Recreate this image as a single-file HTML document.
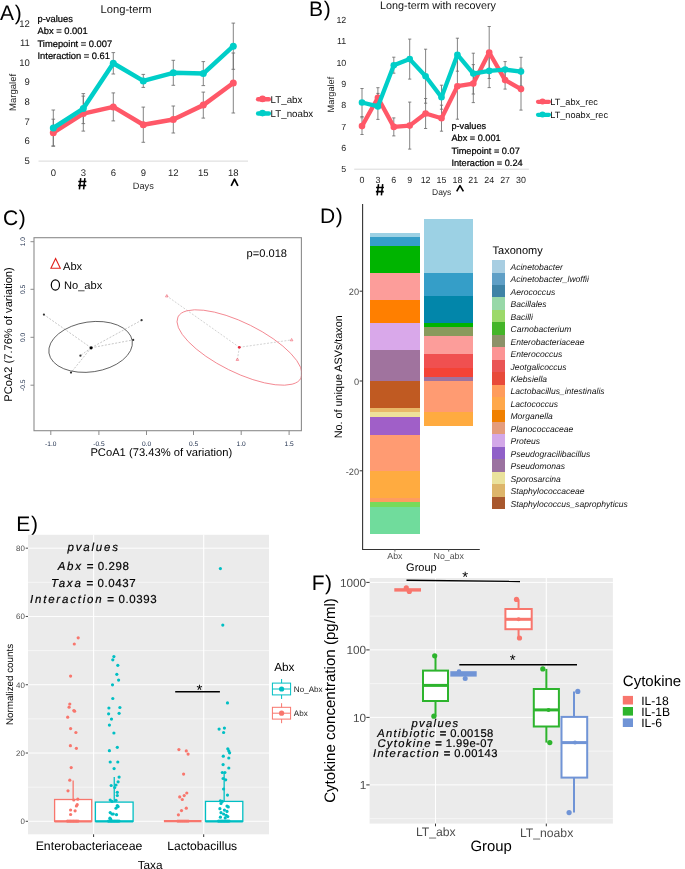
<!DOCTYPE html>
<html><head><meta charset="utf-8"><style>
html,body{margin:0;padding:0;background:#fff;}
svg{display:block;font-family:"Liberation Sans", sans-serif;will-change:transform;text-rendering:geometricPrecision;}
</style></head><body>
<svg width="685" height="869" viewBox="0 0 685 869">
<rect width="685" height="869" fill="#fff"/>
<text x="0.10" y="19.90" font-size="21" letter-spacing="0.6" fill="#000">A)</text>
<text x="126.00" y="13.23" font-size="11.2" text-anchor="middle" fill="#111">Long-term</text>
<text x="37.50" y="21.97" font-size="9.35" text-anchor="start" fill="#000" stroke="#000" stroke-width="0.22">p-values</text>
<text x="37.50" y="34.37" font-size="9.35" text-anchor="start" fill="#000" stroke="#000" stroke-width="0.22">Abx = 0.001</text>
<text x="37.50" y="46.77" font-size="9.35" text-anchor="start" fill="#000" stroke="#000" stroke-width="0.22">Timepoint = 0.007</text>
<text x="37.50" y="58.77" font-size="9.35" text-anchor="start" fill="#000" stroke="#000" stroke-width="0.22">Interaction = 0.61</text>
<text x="29.90" y="164.12" font-size="9.5" text-anchor="end" fill="#262626">5</text>
<text x="29.90" y="144.46" font-size="9.5" text-anchor="end" fill="#262626">6</text>
<text x="29.90" y="124.80" font-size="9.5" text-anchor="end" fill="#262626">7</text>
<text x="29.90" y="105.14" font-size="9.5" text-anchor="end" fill="#262626">8</text>
<text x="29.90" y="85.48" font-size="9.5" text-anchor="end" fill="#262626">9</text>
<text x="29.90" y="65.82" font-size="9.5" text-anchor="end" fill="#262626">10</text>
<text x="29.90" y="46.16" font-size="9.5" text-anchor="end" fill="#262626">11</text>
<text x="29.90" y="26.50" font-size="9.5" text-anchor="end" fill="#262626">12</text>
<line x1="38.50" y1="161.10" x2="248.00" y2="161.10" stroke="#d9d9d9" stroke-width="1" />
<text x="53.30" y="175.72" font-size="9.5" text-anchor="middle" fill="#262626">0</text>
<text x="83.30" y="175.72" font-size="9.5" text-anchor="middle" fill="#262626">3</text>
<text x="113.30" y="175.72" font-size="9.5" text-anchor="middle" fill="#262626">6</text>
<text x="143.30" y="175.72" font-size="9.5" text-anchor="middle" fill="#262626">9</text>
<text x="173.30" y="175.72" font-size="9.5" text-anchor="middle" fill="#262626">12</text>
<text x="203.30" y="175.72" font-size="9.5" text-anchor="middle" fill="#262626">15</text>
<text x="233.30" y="175.72" font-size="9.5" text-anchor="middle" fill="#262626">18</text>
<path d="M80.7,178.1 L79.4,189.3 M84.9,178.1 L83.6,189.3 M78.3,181.5 L86.4,181.5 M78.1,185.4 L86.2,185.4" stroke="#000" stroke-width="1.55" fill="none"/>
<path d="M231.2,185.8 L234.5,179.2 L237.9,185.8" stroke="#000" stroke-width="1.7" fill="none" stroke-linejoin="round"/>
<text x="143.30" y="188.81" font-size="9.2" text-anchor="middle" fill="#262626">Days</text>
<text x="0" y="0" font-size="9.5" text-anchor="middle" fill="#262626"  transform="translate(15.92 92.40) rotate(-90)">Margalef</text>
<line x1="53.30" y1="110.00" x2="53.30" y2="146.00" stroke="#6e6e6e" stroke-width="0.85" />
<line x1="51.50" y1="110.00" x2="55.10" y2="110.00" stroke="#6e6e6e" stroke-width="0.85" />
<line x1="51.50" y1="146.00" x2="55.10" y2="146.00" stroke="#6e6e6e" stroke-width="0.85" />
<line x1="53.30" y1="119.20" x2="53.30" y2="146.20" stroke="#6e6e6e" stroke-width="0.85" />
<line x1="51.50" y1="119.20" x2="55.10" y2="119.20" stroke="#6e6e6e" stroke-width="0.85" />
<line x1="51.50" y1="146.20" x2="55.10" y2="146.20" stroke="#6e6e6e" stroke-width="0.85" />
<line x1="83.30" y1="93.60" x2="83.30" y2="123.60" stroke="#6e6e6e" stroke-width="0.85" />
<line x1="81.50" y1="93.60" x2="85.10" y2="93.60" stroke="#6e6e6e" stroke-width="0.85" />
<line x1="81.50" y1="123.60" x2="85.10" y2="123.60" stroke="#6e6e6e" stroke-width="0.85" />
<line x1="83.30" y1="96.10" x2="83.30" y2="131.10" stroke="#6e6e6e" stroke-width="0.85" />
<line x1="81.50" y1="96.10" x2="85.10" y2="96.10" stroke="#6e6e6e" stroke-width="0.85" />
<line x1="81.50" y1="131.10" x2="85.10" y2="131.10" stroke="#6e6e6e" stroke-width="0.85" />
<line x1="113.30" y1="52.60" x2="113.30" y2="74.00" stroke="#6e6e6e" stroke-width="0.85" />
<line x1="111.50" y1="52.60" x2="115.10" y2="52.60" stroke="#6e6e6e" stroke-width="0.85" />
<line x1="111.50" y1="74.00" x2="115.10" y2="74.00" stroke="#6e6e6e" stroke-width="0.85" />
<line x1="113.30" y1="92.90" x2="113.30" y2="120.90" stroke="#6e6e6e" stroke-width="0.85" />
<line x1="111.50" y1="92.90" x2="115.10" y2="92.90" stroke="#6e6e6e" stroke-width="0.85" />
<line x1="111.50" y1="120.90" x2="115.10" y2="120.90" stroke="#6e6e6e" stroke-width="0.85" />
<line x1="143.30" y1="74.40" x2="143.30" y2="87.40" stroke="#6e6e6e" stroke-width="0.85" />
<line x1="141.50" y1="74.40" x2="145.10" y2="74.40" stroke="#6e6e6e" stroke-width="0.85" />
<line x1="141.50" y1="87.40" x2="145.10" y2="87.40" stroke="#6e6e6e" stroke-width="0.85" />
<line x1="143.30" y1="107.10" x2="143.30" y2="142.30" stroke="#6e6e6e" stroke-width="0.85" />
<line x1="141.50" y1="107.10" x2="145.10" y2="107.10" stroke="#6e6e6e" stroke-width="0.85" />
<line x1="141.50" y1="142.30" x2="145.10" y2="142.30" stroke="#6e6e6e" stroke-width="0.85" />
<line x1="173.30" y1="60.30" x2="173.30" y2="85.30" stroke="#6e6e6e" stroke-width="0.85" />
<line x1="171.50" y1="60.30" x2="175.10" y2="60.30" stroke="#6e6e6e" stroke-width="0.85" />
<line x1="171.50" y1="85.30" x2="175.10" y2="85.30" stroke="#6e6e6e" stroke-width="0.85" />
<line x1="173.30" y1="106.00" x2="173.30" y2="133.00" stroke="#6e6e6e" stroke-width="0.85" />
<line x1="171.50" y1="106.00" x2="175.10" y2="106.00" stroke="#6e6e6e" stroke-width="0.85" />
<line x1="171.50" y1="133.00" x2="175.10" y2="133.00" stroke="#6e6e6e" stroke-width="0.85" />
<line x1="203.30" y1="61.60" x2="203.30" y2="85.60" stroke="#6e6e6e" stroke-width="0.85" />
<line x1="201.50" y1="61.60" x2="205.10" y2="61.60" stroke="#6e6e6e" stroke-width="0.85" />
<line x1="201.50" y1="85.60" x2="205.10" y2="85.60" stroke="#6e6e6e" stroke-width="0.85" />
<line x1="203.30" y1="92.10" x2="203.30" y2="118.10" stroke="#6e6e6e" stroke-width="0.85" />
<line x1="201.50" y1="92.10" x2="205.10" y2="92.10" stroke="#6e6e6e" stroke-width="0.85" />
<line x1="201.50" y1="118.10" x2="205.10" y2="118.10" stroke="#6e6e6e" stroke-width="0.85" />
<line x1="233.30" y1="23.10" x2="233.30" y2="69.30" stroke="#6e6e6e" stroke-width="0.85" />
<line x1="231.50" y1="23.10" x2="235.10" y2="23.10" stroke="#6e6e6e" stroke-width="0.85" />
<line x1="231.50" y1="69.30" x2="235.10" y2="69.30" stroke="#6e6e6e" stroke-width="0.85" />
<line x1="233.30" y1="53.00" x2="233.30" y2="113.00" stroke="#6e6e6e" stroke-width="0.85" />
<line x1="231.50" y1="53.00" x2="235.10" y2="53.00" stroke="#6e6e6e" stroke-width="0.85" />
<line x1="231.50" y1="113.00" x2="235.10" y2="113.00" stroke="#6e6e6e" stroke-width="0.85" />
<polyline points="53.30,132.70 83.30,113.60 113.30,106.90 143.30,124.70 173.30,119.50 203.30,105.10 233.30,83.00" fill="none" stroke="#FF5868" stroke-width="4.5" stroke-linejoin="round" stroke-linecap="round"/>
<circle cx="53.30" cy="132.70" r="3.5" fill="#FF5868"/>
<circle cx="83.30" cy="113.60" r="3.5" fill="#FF5868"/>
<circle cx="113.30" cy="106.90" r="3.5" fill="#FF5868"/>
<circle cx="143.30" cy="124.70" r="3.5" fill="#FF5868"/>
<circle cx="173.30" cy="119.50" r="3.5" fill="#FF5868"/>
<circle cx="203.30" cy="105.10" r="3.5" fill="#FF5868"/>
<circle cx="233.30" cy="83.00" r="3.5" fill="#FF5868"/>
<polyline points="53.30,128.00 83.30,108.60 113.30,63.30 143.30,80.90 173.30,72.80 203.30,73.60 233.30,46.20" fill="none" stroke="#00CEC8" stroke-width="4.5" stroke-linejoin="round" stroke-linecap="round"/>
<circle cx="53.30" cy="128.00" r="3.5" fill="#00CEC8"/>
<circle cx="83.30" cy="108.60" r="3.5" fill="#00CEC8"/>
<circle cx="113.30" cy="63.30" r="3.5" fill="#00CEC8"/>
<circle cx="143.30" cy="80.90" r="3.5" fill="#00CEC8"/>
<circle cx="173.30" cy="72.80" r="3.5" fill="#00CEC8"/>
<circle cx="203.30" cy="73.60" r="3.5" fill="#00CEC8"/>
<circle cx="233.30" cy="46.20" r="3.5" fill="#00CEC8"/>
<line x1="258.20" y1="99.30" x2="268.80" y2="99.30" stroke="#FF5868" stroke-width="4.6" stroke-linecap="round"/>
<circle cx="262.50" cy="98.90" r="3.3" fill="#FF5868"/>
<text x="270.60" y="102.81" font-size="9.75" text-anchor="start" fill="#111">LT_abx</text>
<line x1="258.20" y1="113.50" x2="268.80" y2="113.50" stroke="#00CEC8" stroke-width="4.6" stroke-linecap="round"/>
<circle cx="262.50" cy="113.10" r="3.3" fill="#00CEC8"/>
<text x="270.60" y="117.01" font-size="9.75" text-anchor="start" fill="#111">LT_noabx</text>
<text x="309.10" y="15.80" font-size="21" letter-spacing="0.6" fill="#000">B)</text>
<text x="438.00" y="8.59" font-size="10.8" text-anchor="middle" fill="#111">Long-term with recovery</text>
<text x="346.30" y="172.20" font-size="8.9" text-anchor="end" fill="#262626">5</text>
<text x="346.30" y="150.90" font-size="8.9" text-anchor="end" fill="#262626">6</text>
<text x="346.30" y="129.60" font-size="8.9" text-anchor="end" fill="#262626">7</text>
<text x="346.30" y="108.30" font-size="8.9" text-anchor="end" fill="#262626">8</text>
<text x="346.30" y="87.00" font-size="8.9" text-anchor="end" fill="#262626">9</text>
<text x="346.30" y="65.70" font-size="8.9" text-anchor="end" fill="#262626">10</text>
<text x="346.30" y="44.40" font-size="8.9" text-anchor="end" fill="#262626">11</text>
<text x="346.30" y="23.10" font-size="8.9" text-anchor="end" fill="#262626">12</text>
<line x1="354.20" y1="169.20" x2="528.90" y2="169.20" stroke="#d9d9d9" stroke-width="1" />
<text x="362.00" y="183.10" font-size="8.9" text-anchor="middle" fill="#262626">0</text>
<text x="377.90" y="183.10" font-size="8.9" text-anchor="middle" fill="#262626">3</text>
<text x="393.80" y="183.10" font-size="8.9" text-anchor="middle" fill="#262626">6</text>
<text x="409.70" y="183.10" font-size="8.9" text-anchor="middle" fill="#262626">9</text>
<text x="425.60" y="183.10" font-size="8.9" text-anchor="middle" fill="#262626">12</text>
<text x="441.50" y="183.10" font-size="8.9" text-anchor="middle" fill="#262626">15</text>
<text x="457.40" y="183.10" font-size="8.9" text-anchor="middle" fill="#262626">18</text>
<text x="473.30" y="183.10" font-size="8.9" text-anchor="middle" fill="#262626">21</text>
<text x="489.20" y="183.10" font-size="8.9" text-anchor="middle" fill="#262626">24</text>
<text x="505.10" y="183.10" font-size="8.9" text-anchor="middle" fill="#262626">27</text>
<text x="521.00" y="183.10" font-size="8.9" text-anchor="middle" fill="#262626">30</text>
<path d="M378.5,184.2 L377.2,195.4 M382.7,184.2 L381.4,195.4 M376.1,187.5 L383.9,187.5 M375.9,191.6 L383.7,191.6" stroke="#000" stroke-width="1.55" fill="none"/>
<path d="M456.7,191.4 L460,185.6 L463.4,191.4" stroke="#000" stroke-width="1.6" fill="none" stroke-linejoin="round"/>
<text x="441.70" y="195.06" font-size="8.5" text-anchor="middle" fill="#262626">Days</text>
<text x="0" y="0" font-size="9.2" text-anchor="middle" fill="#262626"  transform="translate(333.61 94.60) rotate(-90)">Margalef</text>
<line x1="362.00" y1="88.50" x2="362.00" y2="116.50" stroke="#6e6e6e" stroke-width="0.85" />
<line x1="360.40" y1="88.50" x2="363.60" y2="88.50" stroke="#6e6e6e" stroke-width="0.85" />
<line x1="360.40" y1="116.50" x2="363.60" y2="116.50" stroke="#6e6e6e" stroke-width="0.85" />
<line x1="362.00" y1="117.70" x2="362.00" y2="134.50" stroke="#6e6e6e" stroke-width="0.85" />
<line x1="360.40" y1="117.70" x2="363.60" y2="117.70" stroke="#6e6e6e" stroke-width="0.85" />
<line x1="360.40" y1="134.50" x2="363.60" y2="134.50" stroke="#6e6e6e" stroke-width="0.85" />
<line x1="377.90" y1="93.40" x2="377.90" y2="119.40" stroke="#6e6e6e" stroke-width="0.85" />
<line x1="376.30" y1="93.40" x2="379.50" y2="93.40" stroke="#6e6e6e" stroke-width="0.85" />
<line x1="376.30" y1="119.40" x2="379.50" y2="119.40" stroke="#6e6e6e" stroke-width="0.85" />
<line x1="377.90" y1="87.70" x2="377.90" y2="107.70" stroke="#6e6e6e" stroke-width="0.85" />
<line x1="376.30" y1="87.70" x2="379.50" y2="87.70" stroke="#6e6e6e" stroke-width="0.85" />
<line x1="376.30" y1="107.70" x2="379.50" y2="107.70" stroke="#6e6e6e" stroke-width="0.85" />
<line x1="393.80" y1="57.20" x2="393.80" y2="73.20" stroke="#6e6e6e" stroke-width="0.85" />
<line x1="392.20" y1="57.20" x2="395.40" y2="57.20" stroke="#6e6e6e" stroke-width="0.85" />
<line x1="392.20" y1="73.20" x2="395.40" y2="73.20" stroke="#6e6e6e" stroke-width="0.85" />
<line x1="393.80" y1="117.90" x2="393.80" y2="135.90" stroke="#6e6e6e" stroke-width="0.85" />
<line x1="392.20" y1="117.90" x2="395.40" y2="117.90" stroke="#6e6e6e" stroke-width="0.85" />
<line x1="392.20" y1="135.90" x2="395.40" y2="135.90" stroke="#6e6e6e" stroke-width="0.85" />
<line x1="409.70" y1="39.10" x2="409.70" y2="79.10" stroke="#6e6e6e" stroke-width="0.85" />
<line x1="408.10" y1="39.10" x2="411.30" y2="39.10" stroke="#6e6e6e" stroke-width="0.85" />
<line x1="408.10" y1="79.10" x2="411.30" y2="79.10" stroke="#6e6e6e" stroke-width="0.85" />
<line x1="409.70" y1="102.10" x2="409.70" y2="149.10" stroke="#6e6e6e" stroke-width="0.85" />
<line x1="408.10" y1="102.10" x2="411.30" y2="102.10" stroke="#6e6e6e" stroke-width="0.85" />
<line x1="408.10" y1="149.10" x2="411.30" y2="149.10" stroke="#6e6e6e" stroke-width="0.85" />
<line x1="425.60" y1="49.20" x2="425.60" y2="103.20" stroke="#6e6e6e" stroke-width="0.85" />
<line x1="424.00" y1="49.20" x2="427.20" y2="49.20" stroke="#6e6e6e" stroke-width="0.85" />
<line x1="424.00" y1="103.20" x2="427.20" y2="103.20" stroke="#6e6e6e" stroke-width="0.85" />
<line x1="425.60" y1="98.50" x2="425.60" y2="128.50" stroke="#6e6e6e" stroke-width="0.85" />
<line x1="424.00" y1="98.50" x2="427.20" y2="98.50" stroke="#6e6e6e" stroke-width="0.85" />
<line x1="424.00" y1="128.50" x2="427.20" y2="128.50" stroke="#6e6e6e" stroke-width="0.85" />
<line x1="441.50" y1="85.20" x2="441.50" y2="109.20" stroke="#6e6e6e" stroke-width="0.85" />
<line x1="439.90" y1="85.20" x2="443.10" y2="85.20" stroke="#6e6e6e" stroke-width="0.85" />
<line x1="439.90" y1="109.20" x2="443.10" y2="109.20" stroke="#6e6e6e" stroke-width="0.85" />
<line x1="441.50" y1="105.20" x2="441.50" y2="131.20" stroke="#6e6e6e" stroke-width="0.85" />
<line x1="439.90" y1="105.20" x2="443.10" y2="105.20" stroke="#6e6e6e" stroke-width="0.85" />
<line x1="439.90" y1="131.20" x2="443.10" y2="131.20" stroke="#6e6e6e" stroke-width="0.85" />
<line x1="457.40" y1="38.20" x2="457.40" y2="71.20" stroke="#6e6e6e" stroke-width="0.85" />
<line x1="455.80" y1="38.20" x2="459.00" y2="38.20" stroke="#6e6e6e" stroke-width="0.85" />
<line x1="455.80" y1="71.20" x2="459.00" y2="71.20" stroke="#6e6e6e" stroke-width="0.85" />
<line x1="457.40" y1="53.20" x2="457.40" y2="119.20" stroke="#6e6e6e" stroke-width="0.85" />
<line x1="455.80" y1="53.20" x2="459.00" y2="53.20" stroke="#6e6e6e" stroke-width="0.85" />
<line x1="455.80" y1="119.20" x2="459.00" y2="119.20" stroke="#6e6e6e" stroke-width="0.85" />
<line x1="473.30" y1="53.20" x2="473.30" y2="94.00" stroke="#6e6e6e" stroke-width="0.85" />
<line x1="471.70" y1="53.20" x2="474.90" y2="53.20" stroke="#6e6e6e" stroke-width="0.85" />
<line x1="471.70" y1="94.00" x2="474.90" y2="94.00" stroke="#6e6e6e" stroke-width="0.85" />
<line x1="473.30" y1="64.60" x2="473.30" y2="102.60" stroke="#6e6e6e" stroke-width="0.85" />
<line x1="471.70" y1="64.60" x2="474.90" y2="64.60" stroke="#6e6e6e" stroke-width="0.85" />
<line x1="471.70" y1="102.60" x2="474.90" y2="102.60" stroke="#6e6e6e" stroke-width="0.85" />
<line x1="489.20" y1="54.20" x2="489.20" y2="87.60" stroke="#6e6e6e" stroke-width="0.85" />
<line x1="487.60" y1="54.20" x2="490.80" y2="54.20" stroke="#6e6e6e" stroke-width="0.85" />
<line x1="487.60" y1="87.60" x2="490.80" y2="87.60" stroke="#6e6e6e" stroke-width="0.85" />
<line x1="489.20" y1="26.50" x2="489.20" y2="78.50" stroke="#6e6e6e" stroke-width="0.85" />
<line x1="487.60" y1="26.50" x2="490.80" y2="26.50" stroke="#6e6e6e" stroke-width="0.85" />
<line x1="487.60" y1="78.50" x2="490.80" y2="78.50" stroke="#6e6e6e" stroke-width="0.85" />
<line x1="505.10" y1="61.60" x2="505.10" y2="77.60" stroke="#6e6e6e" stroke-width="0.85" />
<line x1="503.50" y1="61.60" x2="506.70" y2="61.60" stroke="#6e6e6e" stroke-width="0.85" />
<line x1="503.50" y1="77.60" x2="506.70" y2="77.60" stroke="#6e6e6e" stroke-width="0.85" />
<line x1="505.10" y1="71.10" x2="505.10" y2="89.10" stroke="#6e6e6e" stroke-width="0.85" />
<line x1="503.50" y1="71.10" x2="506.70" y2="71.10" stroke="#6e6e6e" stroke-width="0.85" />
<line x1="503.50" y1="89.10" x2="506.70" y2="89.10" stroke="#6e6e6e" stroke-width="0.85" />
<line x1="521.00" y1="57.30" x2="521.00" y2="85.90" stroke="#6e6e6e" stroke-width="0.85" />
<line x1="519.40" y1="57.30" x2="522.60" y2="57.30" stroke="#6e6e6e" stroke-width="0.85" />
<line x1="519.40" y1="85.90" x2="522.60" y2="85.90" stroke="#6e6e6e" stroke-width="0.85" />
<line x1="521.00" y1="68.10" x2="521.00" y2="110.10" stroke="#6e6e6e" stroke-width="0.85" />
<line x1="519.40" y1="68.10" x2="522.60" y2="68.10" stroke="#6e6e6e" stroke-width="0.85" />
<line x1="519.40" y1="110.10" x2="522.60" y2="110.10" stroke="#6e6e6e" stroke-width="0.85" />
<polyline points="362.00,126.10 377.90,97.70 393.80,126.90 409.70,125.60 425.60,113.50 441.50,118.20 457.40,86.20 473.30,83.60 489.20,52.50 505.10,80.10 521.00,89.10" fill="none" stroke="#FF5868" stroke-width="4.3" stroke-linejoin="round" stroke-linecap="round"/>
<circle cx="362.00" cy="126.10" r="3.3" fill="#FF5868"/>
<circle cx="377.90" cy="97.70" r="3.3" fill="#FF5868"/>
<circle cx="393.80" cy="126.90" r="3.3" fill="#FF5868"/>
<circle cx="409.70" cy="125.60" r="3.3" fill="#FF5868"/>
<circle cx="425.60" cy="113.50" r="3.3" fill="#FF5868"/>
<circle cx="441.50" cy="118.20" r="3.3" fill="#FF5868"/>
<circle cx="457.40" cy="86.20" r="3.3" fill="#FF5868"/>
<circle cx="473.30" cy="83.60" r="3.3" fill="#FF5868"/>
<circle cx="489.20" cy="52.50" r="3.3" fill="#FF5868"/>
<circle cx="505.10" cy="80.10" r="3.3" fill="#FF5868"/>
<circle cx="521.00" cy="89.10" r="3.3" fill="#FF5868"/>
<polyline points="362.00,102.50 377.90,106.40 393.80,65.20 409.70,59.10 425.60,76.20 441.50,97.20 457.40,54.70 473.30,73.60 489.20,70.90 505.10,69.60 521.00,71.60" fill="none" stroke="#00CEC8" stroke-width="4.3" stroke-linejoin="round" stroke-linecap="round"/>
<circle cx="362.00" cy="102.50" r="3.3" fill="#00CEC8"/>
<circle cx="377.90" cy="106.40" r="3.3" fill="#00CEC8"/>
<circle cx="393.80" cy="65.20" r="3.3" fill="#00CEC8"/>
<circle cx="409.70" cy="59.10" r="3.3" fill="#00CEC8"/>
<circle cx="425.60" cy="76.20" r="3.3" fill="#00CEC8"/>
<circle cx="441.50" cy="97.20" r="3.3" fill="#00CEC8"/>
<circle cx="457.40" cy="54.70" r="3.3" fill="#00CEC8"/>
<circle cx="473.30" cy="73.60" r="3.3" fill="#00CEC8"/>
<circle cx="489.20" cy="70.90" r="3.3" fill="#00CEC8"/>
<circle cx="505.10" cy="69.60" r="3.3" fill="#00CEC8"/>
<circle cx="521.00" cy="71.60" r="3.3" fill="#00CEC8"/>
<line x1="538.00" y1="101.80" x2="549.00" y2="101.80" stroke="#FF5868" stroke-width="4.2" stroke-linecap="round"/>
<circle cx="542.50" cy="101.50" r="3.0" fill="#FF5868"/>
<text x="550.30" y="105.09" font-size="9.15" text-anchor="start" fill="#111">LT_abx_rec</text>
<line x1="538.00" y1="114.80" x2="549.00" y2="114.80" stroke="#00CEC8" stroke-width="4.2" stroke-linecap="round"/>
<circle cx="542.50" cy="114.50" r="3.0" fill="#00CEC8"/>
<text x="550.30" y="118.09" font-size="9.15" text-anchor="start" fill="#111">LT_noabx_rec</text>
<text x="451.40" y="128.91" font-size="9.2" text-anchor="start" fill="#000" stroke="#000" stroke-width="0.22">p-values</text>
<text x="451.40" y="140.71" font-size="9.2" text-anchor="start" fill="#000" stroke="#000" stroke-width="0.22">Abx = 0.001</text>
<text x="451.40" y="153.61" font-size="9.2" text-anchor="start" fill="#000" stroke="#000" stroke-width="0.22">Timepoint = 0.07</text>
<text x="451.40" y="165.71" font-size="9.2" text-anchor="start" fill="#000" stroke="#000" stroke-width="0.22">Interaction = 0.24</text>
<text x="3.10" y="225.20" font-size="21" letter-spacing="0.6" fill="#000">C)</text>
<rect x="34.00" y="237.70" width="267.40" height="193.00" fill="none" stroke="#8c8c8c" stroke-width="1.1" />
<line x1="30.50" y1="241.70" x2="34.00" y2="241.70" stroke="#8c8c8c" stroke-width="1" />
<text x="0" y="0" font-size="6.6" text-anchor="middle" fill="#1a2a48"  transform="translate(24.68 241.70) rotate(-90)">1.0</text>
<line x1="30.50" y1="289.30" x2="34.00" y2="289.30" stroke="#8c8c8c" stroke-width="1" />
<text x="0" y="0" font-size="6.6" text-anchor="middle" fill="#1a2a48"  transform="translate(24.68 289.30) rotate(-90)">0.5</text>
<line x1="30.50" y1="337.30" x2="34.00" y2="337.30" stroke="#8c8c8c" stroke-width="1" />
<text x="0" y="0" font-size="6.6" text-anchor="middle" fill="#1a2a48"  transform="translate(24.68 337.30) rotate(-90)">0.0</text>
<line x1="30.50" y1="385.20" x2="34.00" y2="385.20" stroke="#8c8c8c" stroke-width="1" />
<text x="0" y="0" font-size="6.6" text-anchor="middle" fill="#1a2a48"  transform="translate(24.68 385.20) rotate(-90)">-0.5</text>
<line x1="50.80" y1="430.70" x2="50.80" y2="435.00" stroke="#8c8c8c" stroke-width="1" />
<text x="50.80" y="445.58" font-size="6.6" text-anchor="middle" fill="#1a2a48">-1.0</text>
<line x1="98.90" y1="430.70" x2="98.90" y2="435.00" stroke="#8c8c8c" stroke-width="1" />
<text x="98.90" y="445.58" font-size="6.6" text-anchor="middle" fill="#1a2a48">-0.5</text>
<line x1="146.50" y1="430.70" x2="146.50" y2="435.00" stroke="#8c8c8c" stroke-width="1" />
<text x="146.50" y="445.58" font-size="6.6" text-anchor="middle" fill="#1a2a48">0.0</text>
<line x1="193.50" y1="430.70" x2="193.50" y2="435.00" stroke="#8c8c8c" stroke-width="1" />
<text x="193.50" y="445.58" font-size="6.6" text-anchor="middle" fill="#1a2a48">0.5</text>
<line x1="241.20" y1="430.70" x2="241.20" y2="435.00" stroke="#8c8c8c" stroke-width="1" />
<text x="241.20" y="445.58" font-size="6.6" text-anchor="middle" fill="#1a2a48">1.0</text>
<line x1="289.10" y1="430.70" x2="289.10" y2="435.00" stroke="#8c8c8c" stroke-width="1" />
<text x="289.10" y="445.58" font-size="6.6" text-anchor="middle" fill="#1a2a48">1.5</text>
<text x="161.30" y="456.03" font-size="11.2" text-anchor="middle" fill="#000">PCoA1 (73.43% of variation)</text>
<text x="0" y="0" font-size="11.1" text-anchor="middle" fill="#000"  transform="translate(12.10 334.50) rotate(-90)">PCoA2 (7.76% of variation)</text>
<text x="266.80" y="257.40" font-size="11.1" text-anchor="middle" fill="#000">p=0.018</text>
<path d="M55.6,258.6 L60.3,268.3 L50.9,268.3 Z" fill="none" stroke="#e0201b" stroke-width="1.1"/>
<text x="63.00" y="270.30" font-size="11.1" text-anchor="start" fill="#000">Abx</text>
<ellipse cx="55.4" cy="285" rx="4.1" ry="5.1" fill="none" stroke="#000" stroke-width="1.2"/>
<text x="64.00" y="289.30" font-size="11.1" text-anchor="start" fill="#000">No_abx</text>
<line x1="91.10" y1="347.80" x2="43.90" y2="314.60" stroke="#b4b4b4" stroke-width="0.75" stroke-dasharray="2,1.5"/>
<circle cx="43.90" cy="314.60" r="1.1" fill="#333"/>
<line x1="91.10" y1="347.80" x2="141.60" y2="320.20" stroke="#b4b4b4" stroke-width="0.75" stroke-dasharray="2,1.5"/>
<circle cx="141.60" cy="320.20" r="1.1" fill="#333"/>
<line x1="91.10" y1="347.80" x2="133.20" y2="339.90" stroke="#b4b4b4" stroke-width="0.75" stroke-dasharray="2,1.5"/>
<circle cx="133.20" cy="339.90" r="1.1" fill="#333"/>
<line x1="91.10" y1="347.80" x2="80.40" y2="355.70" stroke="#b4b4b4" stroke-width="0.75" stroke-dasharray="2,1.5"/>
<circle cx="80.40" cy="355.70" r="1.1" fill="#333"/>
<line x1="91.10" y1="347.80" x2="71.00" y2="372.60" stroke="#b4b4b4" stroke-width="0.75" stroke-dasharray="2,1.5"/>
<circle cx="71.00" cy="372.60" r="1.1" fill="#333"/>
<circle cx="91.10" cy="347.80" r="1.6" fill="#000"/>
<ellipse cx="90.6" cy="346.9" rx="42.1" ry="25" transform="rotate(-8.4 90.6 346.9)" fill="none" stroke="#3a3a3a" stroke-width="0.75"/>
<line x1="239.30" y1="347.30" x2="166.80" y2="296.00" stroke="#c4c4c4" stroke-width="0.75" stroke-dasharray="2,1.5"/>
<path d="M166.80,294.60 L168.10,296.90 L165.50,296.90 Z" fill="none" stroke="#f26a78" stroke-width="0.7"/>
<line x1="239.30" y1="347.30" x2="291.60" y2="339.90" stroke="#c4c4c4" stroke-width="0.75" stroke-dasharray="2,1.5"/>
<path d="M291.60,338.50 L292.90,340.80 L290.30,340.80 Z" fill="none" stroke="#f26a78" stroke-width="0.7"/>
<line x1="239.30" y1="347.30" x2="237.40" y2="359.50" stroke="#c4c4c4" stroke-width="0.75" stroke-dasharray="2,1.5"/>
<path d="M237.40,358.10 L238.70,360.40 L236.10,360.40 Z" fill="none" stroke="#f26a78" stroke-width="0.7"/>
<circle cx="239.30" cy="347.30" r="1.4" fill="#e8283c"/>
<clipPath id="cb"><rect x="34" y="237.7" width="267.4" height="193"/></clipPath>
<g clip-path="url(#cb)"><ellipse cx="239.5" cy="347.5" rx="68.7" ry="24.7" transform="rotate(26.4 239.5 347.5)" fill="none" stroke="#f27a84" stroke-width="0.8"/></g>
<text x="320.10" y="223.30" font-size="21" letter-spacing="0.6" fill="#000">D)</text>
<rect x="370.00" y="232.83" width="49.70" height="148.18" fill="#9CD1E4" stroke="none" stroke-width="1" shape-rendering="crispEdges"/>
<rect x="370.00" y="237.32" width="49.70" height="143.69" fill="#359EC8" stroke="none" stroke-width="1" shape-rendering="crispEdges"/>
<rect x="370.00" y="246.30" width="49.70" height="134.71" fill="#00B400" stroke="none" stroke-width="1" shape-rendering="crispEdges"/>
<rect x="370.00" y="273.24" width="49.70" height="107.77" fill="#FC9D9A" stroke="none" stroke-width="1" shape-rendering="crispEdges"/>
<rect x="370.00" y="300.18" width="49.70" height="80.83" fill="#FF7F00" stroke="none" stroke-width="1" shape-rendering="crispEdges"/>
<rect x="370.00" y="322.63" width="49.70" height="58.38" fill="#D9A8EA" stroke="none" stroke-width="1" shape-rendering="crispEdges"/>
<rect x="370.00" y="349.57" width="49.70" height="31.44" fill="#A0739E" stroke="none" stroke-width="1" shape-rendering="crispEdges"/>
<rect x="370.00" y="381.00" width="49.70" height="152.66" fill="#70DC9C" stroke="none" stroke-width="1" shape-rendering="crispEdges"/>
<rect x="370.00" y="381.00" width="49.70" height="125.72" fill="#78DA5A" stroke="none" stroke-width="1" shape-rendering="crispEdges"/>
<rect x="370.00" y="381.00" width="49.70" height="121.23" fill="#FF9C60" stroke="none" stroke-width="1" shape-rendering="crispEdges"/>
<rect x="370.00" y="381.00" width="49.70" height="116.74" fill="#FFAB40" stroke="none" stroke-width="1" shape-rendering="crispEdges"/>
<rect x="370.00" y="381.00" width="49.70" height="89.80" fill="#FF9B72" stroke="none" stroke-width="1" shape-rendering="crispEdges"/>
<rect x="370.00" y="381.00" width="49.70" height="53.88" fill="#A05FC8" stroke="none" stroke-width="1" shape-rendering="crispEdges"/>
<rect x="370.00" y="381.00" width="49.70" height="35.92" fill="#EEE09A" stroke="none" stroke-width="1" shape-rendering="crispEdges"/>
<rect x="370.00" y="381.00" width="49.70" height="31.43" fill="#E8B868" stroke="none" stroke-width="1" shape-rendering="crispEdges"/>
<rect x="370.00" y="381.00" width="49.70" height="26.94" fill="#C05A22" stroke="none" stroke-width="1" shape-rendering="crispEdges"/>
<rect x="424.30" y="219.36" width="48.70" height="161.65" fill="#9CD1E4" stroke="none" stroke-width="1" shape-rendering="crispEdges"/>
<rect x="424.30" y="273.24" width="48.70" height="107.77" fill="#359EC8" stroke="none" stroke-width="1" shape-rendering="crispEdges"/>
<rect x="424.30" y="295.69" width="48.70" height="85.32" fill="#0286AA" stroke="none" stroke-width="1" shape-rendering="crispEdges"/>
<rect x="424.30" y="322.63" width="48.70" height="58.38" fill="#00B400" stroke="none" stroke-width="1" shape-rendering="crispEdges"/>
<rect x="424.30" y="327.12" width="48.70" height="53.89" fill="#8A9A5C" stroke="none" stroke-width="1" shape-rendering="crispEdges"/>
<rect x="424.30" y="336.10" width="48.70" height="44.91" fill="#FC9D9A" stroke="none" stroke-width="1" shape-rendering="crispEdges"/>
<rect x="424.30" y="354.06" width="48.70" height="26.95" fill="#F05050" stroke="none" stroke-width="1" shape-rendering="crispEdges"/>
<rect x="424.30" y="367.53" width="48.70" height="13.48" fill="#F44336" stroke="none" stroke-width="1" shape-rendering="crispEdges"/>
<rect x="424.30" y="376.51" width="48.70" height="4.50" fill="#A0739E" stroke="none" stroke-width="1" shape-rendering="crispEdges"/>
<rect x="424.30" y="381.00" width="48.70" height="44.90" fill="#FFAB40" stroke="none" stroke-width="1" shape-rendering="crispEdges"/>
<rect x="424.30" y="381.00" width="48.70" height="31.43" fill="#FF9B72" stroke="none" stroke-width="1" shape-rendering="crispEdges"/>
<line x1="362.60" y1="204.00" x2="362.60" y2="549.60" stroke="#333" stroke-width="1.1" />
<line x1="362.10" y1="549.50" x2="479.80" y2="549.50" stroke="#333" stroke-width="1.1" />
<line x1="359.60" y1="291.20" x2="362.60" y2="291.20" stroke="#333" stroke-width="1" />
<text x="359.00" y="294.91" font-size="9.2" text-anchor="end" fill="#4d4d4d">20</text>
<line x1="359.60" y1="381.00" x2="362.60" y2="381.00" stroke="#333" stroke-width="1" />
<text x="359.00" y="384.71" font-size="9.2" text-anchor="end" fill="#4d4d4d">0</text>
<line x1="359.60" y1="470.80" x2="362.60" y2="470.80" stroke="#333" stroke-width="1" />
<text x="359.00" y="474.51" font-size="9.2" text-anchor="end" fill="#4d4d4d">-20</text>
<line x1="394.90" y1="549.50" x2="394.90" y2="551.60" stroke="#555" stroke-width="0.9" />
<text x="394.90" y="559.37" font-size="8.8" text-anchor="middle" fill="#4d4d4d">Abx</text>
<line x1="448.70" y1="549.50" x2="448.70" y2="551.60" stroke="#555" stroke-width="0.9" />
<text x="448.70" y="559.37" font-size="8.8" text-anchor="middle" fill="#4d4d4d">No_abx</text>
<text x="421.40" y="571.26" font-size="11" text-anchor="middle" fill="#000">Group</text>
<text x="0" y="0" font-size="10.8" text-anchor="middle" fill="#000"  transform="translate(342.29 376.80) rotate(-90)">No. of unique ASVs/taxon</text>
<text x="492.60" y="254.36" font-size="11" text-anchor="start" fill="#000">Taxonomy</text>
<rect x="492.40" y="260.10" width="12.50" height="13.05" fill="#A8CEE2" stroke="none" stroke-width="1" shape-rendering="crispEdges"/>
<text x="510.50" y="269.98" font-size="8.55" text-anchor="start" fill="#111" font-style="italic">Acinetobacter</text>
<rect x="492.40" y="272.55" width="12.50" height="13.05" fill="#5F9FC6" stroke="none" stroke-width="1" shape-rendering="crispEdges"/>
<text x="510.50" y="282.43" font-size="8.55" text-anchor="start" fill="#111" font-style="italic">Acinetobacter_lwoffii</text>
<rect x="492.40" y="285.00" width="12.50" height="13.05" fill="#3E83A6" stroke="none" stroke-width="1" shape-rendering="crispEdges"/>
<text x="510.50" y="294.88" font-size="8.55" text-anchor="start" fill="#111" font-style="italic">Aerococcus</text>
<rect x="492.40" y="297.45" width="12.50" height="13.05" fill="#98D8A8" stroke="none" stroke-width="1" shape-rendering="crispEdges"/>
<text x="510.50" y="307.33" font-size="8.55" text-anchor="start" fill="#111" font-style="italic">Bacillales</text>
<rect x="492.40" y="309.90" width="12.50" height="13.05" fill="#9CD96A" stroke="none" stroke-width="1" shape-rendering="crispEdges"/>
<text x="510.50" y="319.78" font-size="8.55" text-anchor="start" fill="#111" font-style="italic">Bacilli</text>
<rect x="492.40" y="322.35" width="12.50" height="13.05" fill="#44B528" stroke="none" stroke-width="1" shape-rendering="crispEdges"/>
<text x="510.50" y="332.23" font-size="8.55" text-anchor="start" fill="#111" font-style="italic">Carnobacterium</text>
<rect x="492.40" y="334.80" width="12.50" height="13.05" fill="#8C9168" stroke="none" stroke-width="1" shape-rendering="crispEdges"/>
<text x="510.50" y="344.68" font-size="8.55" text-anchor="start" fill="#111" font-style="italic">Enterobacteriaceae</text>
<rect x="492.40" y="347.25" width="12.50" height="13.05" fill="#FC9494" stroke="none" stroke-width="1" shape-rendering="crispEdges"/>
<text x="510.50" y="357.13" font-size="8.55" text-anchor="start" fill="#111" font-style="italic">Enterococcus</text>
<rect x="492.40" y="359.70" width="12.50" height="13.05" fill="#EA5555" stroke="none" stroke-width="1" shape-rendering="crispEdges"/>
<text x="510.50" y="369.58" font-size="8.55" text-anchor="start" fill="#111" font-style="italic">Jeotgalicoccus</text>
<rect x="492.40" y="372.15" width="12.50" height="13.05" fill="#E84A3A" stroke="none" stroke-width="1" shape-rendering="crispEdges"/>
<text x="510.50" y="382.03" font-size="8.55" text-anchor="start" fill="#111" font-style="italic">Klebsiella</text>
<rect x="492.40" y="384.60" width="12.50" height="13.05" fill="#FF9C5C" stroke="none" stroke-width="1" shape-rendering="crispEdges"/>
<text x="510.50" y="394.48" font-size="8.55" text-anchor="start" fill="#111" font-style="italic">Lactobacillus_intestinalis</text>
<rect x="492.40" y="397.05" width="12.50" height="13.05" fill="#FFA84A" stroke="none" stroke-width="1" shape-rendering="crispEdges"/>
<text x="510.50" y="406.93" font-size="8.55" text-anchor="start" fill="#111" font-style="italic">Lactococcus</text>
<rect x="492.40" y="409.50" width="12.50" height="13.05" fill="#F08000" stroke="none" stroke-width="1" shape-rendering="crispEdges"/>
<text x="510.50" y="419.38" font-size="8.55" text-anchor="start" fill="#111" font-style="italic">Morganella</text>
<rect x="492.40" y="421.95" width="12.50" height="13.05" fill="#E49C7C" stroke="none" stroke-width="1" shape-rendering="crispEdges"/>
<text x="510.50" y="431.83" font-size="8.55" text-anchor="start" fill="#111" font-style="italic">Planococcaceae</text>
<rect x="492.40" y="434.40" width="12.50" height="13.05" fill="#D3A8E8" stroke="none" stroke-width="1" shape-rendering="crispEdges"/>
<text x="510.50" y="444.28" font-size="8.55" text-anchor="start" fill="#111" font-style="italic">Proteus</text>
<rect x="492.40" y="446.85" width="12.50" height="13.05" fill="#9060C8" stroke="none" stroke-width="1" shape-rendering="crispEdges"/>
<text x="510.50" y="456.73" font-size="8.55" text-anchor="start" fill="#111" font-style="italic">Pseudogracilibacillus</text>
<rect x="492.40" y="459.30" width="12.50" height="13.05" fill="#9B72A0" stroke="none" stroke-width="1" shape-rendering="crispEdges"/>
<text x="510.50" y="469.18" font-size="8.55" text-anchor="start" fill="#111" font-style="italic">Pseudomonas</text>
<rect x="492.40" y="471.75" width="12.50" height="13.05" fill="#EAE29C" stroke="none" stroke-width="1" shape-rendering="crispEdges"/>
<text x="510.50" y="481.63" font-size="8.55" text-anchor="start" fill="#111" font-style="italic">Sporosarcina</text>
<rect x="492.40" y="484.20" width="12.50" height="13.05" fill="#DDB56A" stroke="none" stroke-width="1" shape-rendering="crispEdges"/>
<text x="510.50" y="494.08" font-size="8.55" text-anchor="start" fill="#111" font-style="italic">Staphylococcaceae</text>
<rect x="492.40" y="496.65" width="12.50" height="12.45" fill="#A8582E" stroke="none" stroke-width="1" shape-rendering="crispEdges"/>
<text x="510.50" y="506.53" font-size="8.55" text-anchor="start" fill="#111" font-style="italic">Staphylococcus_saprophyticus</text>
<text x="16.30" y="530.90" font-size="21" letter-spacing="0.6" fill="#000">E)</text>
<rect x="28.00" y="534.80" width="241.00" height="299.50" fill="#EBEBEB" stroke="none" stroke-width="1" />
<line x1="28.00" y1="787.16" x2="269.00" y2="787.16" stroke="#fff" stroke-width="0.55" />
<line x1="28.00" y1="718.88" x2="269.00" y2="718.88" stroke="#fff" stroke-width="0.55" />
<line x1="28.00" y1="650.60" x2="269.00" y2="650.60" stroke="#fff" stroke-width="0.55" />
<line x1="28.00" y1="582.32" x2="269.00" y2="582.32" stroke="#fff" stroke-width="0.55" />
<line x1="28.00" y1="821.30" x2="269.00" y2="821.30" stroke="#fff" stroke-width="0.95" />
<line x1="25.70" y1="821.30" x2="28.00" y2="821.30" stroke="#333" stroke-width="0.9" />
<text x="24.80" y="824.14" font-size="7.9" text-anchor="end" fill="#4d4d4d">0</text>
<line x1="28.00" y1="753.02" x2="269.00" y2="753.02" stroke="#fff" stroke-width="0.95" />
<line x1="25.70" y1="753.02" x2="28.00" y2="753.02" stroke="#333" stroke-width="0.9" />
<text x="24.80" y="755.86" font-size="7.9" text-anchor="end" fill="#4d4d4d">20</text>
<line x1="28.00" y1="684.74" x2="269.00" y2="684.74" stroke="#fff" stroke-width="0.95" />
<line x1="25.70" y1="684.74" x2="28.00" y2="684.74" stroke="#333" stroke-width="0.9" />
<text x="24.80" y="687.58" font-size="7.9" text-anchor="end" fill="#4d4d4d">40</text>
<line x1="28.00" y1="616.46" x2="269.00" y2="616.46" stroke="#fff" stroke-width="0.95" />
<line x1="25.70" y1="616.46" x2="28.00" y2="616.46" stroke="#333" stroke-width="0.9" />
<text x="24.80" y="619.30" font-size="7.9" text-anchor="end" fill="#4d4d4d">60</text>
<line x1="28.00" y1="548.18" x2="269.00" y2="548.18" stroke="#fff" stroke-width="0.95" />
<line x1="25.70" y1="548.18" x2="28.00" y2="548.18" stroke="#333" stroke-width="0.9" />
<text x="24.80" y="551.02" font-size="7.9" text-anchor="end" fill="#4d4d4d">80</text>
<line x1="93.60" y1="534.80" x2="93.60" y2="834.30" stroke="#fff" stroke-width="1.1" />
<line x1="93.60" y1="834.30" x2="93.60" y2="837.00" stroke="#333" stroke-width="1" />
<line x1="203.70" y1="534.80" x2="203.70" y2="834.30" stroke="#fff" stroke-width="1.1" />
<line x1="203.70" y1="834.30" x2="203.70" y2="837.00" stroke="#333" stroke-width="1" />
<text x="89.00" y="850.03" font-size="12.3" text-anchor="middle" fill="#000">Enterobacteriaceae</text>
<text x="202.20" y="849.96" font-size="12.1" text-anchor="middle" fill="#000">Lactobacillus</text>
<text x="150.10" y="868.85" font-size="11.8" text-anchor="middle" fill="#000">Taxa</text>
<text x="0" y="0" font-size="9.8" text-anchor="middle" fill="#000"  transform="translate(12.73 684.50) rotate(-90)">Normalized counts</text>
<rect x="54.60" y="799.50" width="37.10" height="21.80" fill="#fff" stroke="#F8766D" stroke-width="1.3" />
<line x1="73.15" y1="799.50" x2="73.15" y2="780.50" stroke="#F8766D" stroke-width="1.3" />
<line x1="54.60" y1="821.30" x2="91.70" y2="821.30" stroke="#F8766D" stroke-width="2.2" />
<rect x="95.40" y="802.10" width="37.70" height="19.20" fill="#fff" stroke="#00BFC4" stroke-width="1.3" />
<line x1="114.25" y1="802.10" x2="114.25" y2="777.10" stroke="#00BFC4" stroke-width="1.3" />
<line x1="95.40" y1="821.30" x2="133.10" y2="821.30" stroke="#00BFC4" stroke-width="2.2" />
<line x1="163.90" y1="821.20" x2="201.50" y2="821.20" stroke="#F8766D" stroke-width="2.2" />
<rect x="205.50" y="801.40" width="37.30" height="19.90" fill="#fff" stroke="#00BFC4" stroke-width="1.3" />
<line x1="224.15" y1="801.40" x2="224.15" y2="772.00" stroke="#00BFC4" stroke-width="1.3" />
<line x1="205.50" y1="821.30" x2="242.80" y2="821.30" stroke="#00BFC4" stroke-width="2.2" />
<circle cx="78.20" cy="637.80" r="1.6" fill="#F8766D"/>
<circle cx="74.30" cy="644.00" r="1.6" fill="#F8766D"/>
<circle cx="70.60" cy="676.10" r="1.6" fill="#F8766D"/>
<circle cx="69.80" cy="704.00" r="1.6" fill="#F8766D"/>
<circle cx="69.10" cy="707.20" r="1.6" fill="#F8766D"/>
<circle cx="73.80" cy="710.60" r="1.6" fill="#F8766D"/>
<circle cx="74.60" cy="711.20" r="1.6" fill="#F8766D"/>
<circle cx="67.70" cy="717.20" r="1.6" fill="#F8766D"/>
<circle cx="70.60" cy="728.60" r="1.6" fill="#F8766D"/>
<circle cx="75.90" cy="732.50" r="1.6" fill="#F8766D"/>
<circle cx="70.40" cy="745.70" r="1.6" fill="#F8766D"/>
<circle cx="76.40" cy="748.30" r="1.6" fill="#F8766D"/>
<circle cx="71.20" cy="767.60" r="1.6" fill="#F8766D"/>
<circle cx="69.80" cy="780.20" r="1.6" fill="#F8766D"/>
<circle cx="68.00" cy="790.80" r="1.6" fill="#F8766D"/>
<circle cx="73.80" cy="800.00" r="1.6" fill="#F8766D"/>
<circle cx="77.80" cy="799.20" r="1.6" fill="#F8766D"/>
<circle cx="77.20" cy="804.70" r="1.6" fill="#F8766D"/>
<circle cx="76.40" cy="806.00" r="1.6" fill="#F8766D"/>
<circle cx="70.60" cy="810.00" r="1.6" fill="#F8766D"/>
<circle cx="75.10" cy="810.80" r="1.6" fill="#F8766D"/>
<circle cx="70.60" cy="814.50" r="1.6" fill="#F8766D"/>
<circle cx="67.50" cy="821.10" r="1.6" fill="#F8766D"/>
<circle cx="69.00" cy="821.10" r="1.6" fill="#F8766D"/>
<circle cx="70.50" cy="821.10" r="1.6" fill="#F8766D"/>
<circle cx="72.00" cy="821.10" r="1.6" fill="#F8766D"/>
<circle cx="73.50" cy="821.10" r="1.6" fill="#F8766D"/>
<circle cx="75.00" cy="821.10" r="1.6" fill="#F8766D"/>
<circle cx="76.50" cy="821.10" r="1.6" fill="#F8766D"/>
<circle cx="78.00" cy="821.10" r="1.6" fill="#F8766D"/>
<circle cx="178.90" cy="749.60" r="1.6" fill="#F8766D"/>
<circle cx="186.30" cy="750.90" r="1.6" fill="#F8766D"/>
<circle cx="188.10" cy="754.10" r="1.6" fill="#F8766D"/>
<circle cx="183.60" cy="774.10" r="1.6" fill="#F8766D"/>
<circle cx="179.70" cy="796.90" r="1.6" fill="#F8766D"/>
<circle cx="184.20" cy="795.60" r="1.6" fill="#F8766D"/>
<circle cx="186.80" cy="793.00" r="1.6" fill="#F8766D"/>
<circle cx="182.30" cy="799.50" r="1.6" fill="#F8766D"/>
<circle cx="186.30" cy="808.20" r="1.6" fill="#F8766D"/>
<circle cx="181.50" cy="810.60" r="1.6" fill="#F8766D"/>
<circle cx="178.40" cy="814.80" r="1.6" fill="#F8766D"/>
<circle cx="178.00" cy="821.10" r="1.6" fill="#F8766D"/>
<circle cx="180.00" cy="821.10" r="1.6" fill="#F8766D"/>
<circle cx="182.00" cy="821.10" r="1.6" fill="#F8766D"/>
<circle cx="184.00" cy="821.10" r="1.6" fill="#F8766D"/>
<circle cx="186.00" cy="821.10" r="1.6" fill="#F8766D"/>
<circle cx="188.00" cy="821.10" r="1.6" fill="#F8766D"/>
<circle cx="113.90" cy="656.60" r="1.6" fill="#00BFC4"/>
<circle cx="112.80" cy="659.80" r="1.6" fill="#00BFC4"/>
<circle cx="117.80" cy="665.30" r="1.6" fill="#00BFC4"/>
<circle cx="116.80" cy="674.30" r="1.6" fill="#00BFC4"/>
<circle cx="118.60" cy="680.10" r="1.6" fill="#00BFC4"/>
<circle cx="112.50" cy="684.80" r="1.6" fill="#00BFC4"/>
<circle cx="112.80" cy="698.50" r="1.6" fill="#00BFC4"/>
<circle cx="108.90" cy="708.00" r="1.6" fill="#00BFC4"/>
<circle cx="119.90" cy="707.50" r="1.6" fill="#00BFC4"/>
<circle cx="108.60" cy="713.80" r="1.6" fill="#00BFC4"/>
<circle cx="119.10" cy="713.30" r="1.6" fill="#00BFC4"/>
<circle cx="111.50" cy="719.10" r="1.6" fill="#00BFC4"/>
<circle cx="109.40" cy="725.10" r="1.6" fill="#00BFC4"/>
<circle cx="113.90" cy="733.00" r="1.6" fill="#00BFC4"/>
<circle cx="109.40" cy="750.70" r="1.6" fill="#00BFC4"/>
<circle cx="117.30" cy="747.30" r="1.6" fill="#00BFC4"/>
<circle cx="110.20" cy="762.00" r="1.6" fill="#00BFC4"/>
<circle cx="117.80" cy="762.00" r="1.6" fill="#00BFC4"/>
<circle cx="114.10" cy="768.60" r="1.6" fill="#00BFC4"/>
<circle cx="119.10" cy="777.10" r="1.6" fill="#00BFC4"/>
<circle cx="118.10" cy="781.80" r="1.6" fill="#00BFC4"/>
<circle cx="116.00" cy="785.00" r="1.6" fill="#00BFC4"/>
<circle cx="111.20" cy="785.50" r="1.6" fill="#00BFC4"/>
<circle cx="114.70" cy="787.60" r="1.6" fill="#00BFC4"/>
<circle cx="117.30" cy="792.30" r="1.6" fill="#00BFC4"/>
<circle cx="117.30" cy="795.50" r="1.6" fill="#00BFC4"/>
<circle cx="110.20" cy="800.00" r="1.6" fill="#00BFC4"/>
<circle cx="116.00" cy="800.30" r="1.6" fill="#00BFC4"/>
<circle cx="112.00" cy="801.30" r="1.6" fill="#00BFC4"/>
<circle cx="117.30" cy="805.50" r="1.6" fill="#00BFC4"/>
<circle cx="116.00" cy="808.20" r="1.6" fill="#00BFC4"/>
<circle cx="118.10" cy="806.60" r="1.6" fill="#00BFC4"/>
<circle cx="110.20" cy="812.60" r="1.6" fill="#00BFC4"/>
<circle cx="112.00" cy="814.00" r="1.6" fill="#00BFC4"/>
<circle cx="113.30" cy="814.00" r="1.6" fill="#00BFC4"/>
<circle cx="116.50" cy="814.70" r="1.6" fill="#00BFC4"/>
<circle cx="109.90" cy="818.20" r="1.6" fill="#00BFC4"/>
<circle cx="110.70" cy="819.20" r="1.6" fill="#00BFC4"/>
<circle cx="108.50" cy="821.10" r="1.6" fill="#00BFC4"/>
<circle cx="110.00" cy="821.10" r="1.6" fill="#00BFC4"/>
<circle cx="111.50" cy="821.10" r="1.6" fill="#00BFC4"/>
<circle cx="113.00" cy="821.10" r="1.6" fill="#00BFC4"/>
<circle cx="114.50" cy="821.10" r="1.6" fill="#00BFC4"/>
<circle cx="116.00" cy="821.10" r="1.6" fill="#00BFC4"/>
<circle cx="117.50" cy="821.10" r="1.6" fill="#00BFC4"/>
<circle cx="119.00" cy="821.10" r="1.6" fill="#00BFC4"/>
<circle cx="220.40" cy="568.60" r="1.6" fill="#00BFC4"/>
<circle cx="222.80" cy="625.10" r="1.6" fill="#00BFC4"/>
<circle cx="227.50" cy="702.90" r="1.6" fill="#00BFC4"/>
<circle cx="219.10" cy="729.10" r="1.6" fill="#00BFC4"/>
<circle cx="224.40" cy="728.10" r="1.6" fill="#00BFC4"/>
<circle cx="223.60" cy="732.50" r="1.6" fill="#00BFC4"/>
<circle cx="227.80" cy="748.80" r="1.6" fill="#00BFC4"/>
<circle cx="228.80" cy="750.90" r="1.6" fill="#00BFC4"/>
<circle cx="229.60" cy="752.80" r="1.6" fill="#00BFC4"/>
<circle cx="223.30" cy="756.20" r="1.6" fill="#00BFC4"/>
<circle cx="228.80" cy="758.00" r="1.6" fill="#00BFC4"/>
<circle cx="223.10" cy="764.60" r="1.6" fill="#00BFC4"/>
<circle cx="228.80" cy="768.00" r="1.6" fill="#00BFC4"/>
<circle cx="222.30" cy="772.50" r="1.6" fill="#00BFC4"/>
<circle cx="224.90" cy="772.50" r="1.6" fill="#00BFC4"/>
<circle cx="223.10" cy="778.50" r="1.6" fill="#00BFC4"/>
<circle cx="225.70" cy="779.80" r="1.6" fill="#00BFC4"/>
<circle cx="223.60" cy="789.00" r="1.6" fill="#00BFC4"/>
<circle cx="227.50" cy="795.10" r="1.6" fill="#00BFC4"/>
<circle cx="220.40" cy="800.90" r="1.6" fill="#00BFC4"/>
<circle cx="222.30" cy="801.40" r="1.6" fill="#00BFC4"/>
<circle cx="221.00" cy="803.50" r="1.6" fill="#00BFC4"/>
<circle cx="227.00" cy="806.10" r="1.6" fill="#00BFC4"/>
<circle cx="228.30" cy="806.90" r="1.6" fill="#00BFC4"/>
<circle cx="219.90" cy="808.70" r="1.6" fill="#00BFC4"/>
<circle cx="224.40" cy="810.10" r="1.6" fill="#00BFC4"/>
<circle cx="227.00" cy="811.40" r="1.6" fill="#00BFC4"/>
<circle cx="221.00" cy="812.70" r="1.6" fill="#00BFC4"/>
<circle cx="223.60" cy="814.00" r="1.6" fill="#00BFC4"/>
<circle cx="226.20" cy="815.30" r="1.6" fill="#00BFC4"/>
<circle cx="227.80" cy="816.60" r="1.6" fill="#00BFC4"/>
<circle cx="220.40" cy="817.20" r="1.6" fill="#00BFC4"/>
<circle cx="225.20" cy="817.90" r="1.6" fill="#00BFC4"/>
<circle cx="218.50" cy="821.10" r="1.6" fill="#00BFC4"/>
<circle cx="220.00" cy="821.10" r="1.6" fill="#00BFC4"/>
<circle cx="221.50" cy="821.10" r="1.6" fill="#00BFC4"/>
<circle cx="223.00" cy="821.10" r="1.6" fill="#00BFC4"/>
<circle cx="224.50" cy="821.10" r="1.6" fill="#00BFC4"/>
<circle cx="226.00" cy="821.10" r="1.6" fill="#00BFC4"/>
<circle cx="227.50" cy="821.10" r="1.6" fill="#00BFC4"/>
<circle cx="229.00" cy="821.10" r="1.6" fill="#00BFC4"/>
<line x1="175.20" y1="691.80" x2="219.90" y2="691.80" stroke="#000" stroke-width="1.5" />
<text x="199.40" y="695.30" font-size="15" text-anchor="middle" fill="#000">*</text>
<text x="93.60" y="551.44" font-size="11.5" text-anchor="middle" fill="#000" letter-spacing="0.6" stroke="#000" stroke-width="0.2"><tspan font-style="italic" letter-spacing="1.8">pvalues</tspan></text>
<text x="93.60" y="569.54" font-size="11.5" text-anchor="middle" fill="#000" letter-spacing="0.6" stroke="#000" stroke-width="0.2"><tspan font-style="italic" letter-spacing="1.8">Abx</tspan> <tspan font-weight="bold">=</tspan> 0.298</text>
<text x="93.60" y="586.54" font-size="11.5" text-anchor="middle" fill="#000" letter-spacing="0.6" stroke="#000" stroke-width="0.2"><tspan font-style="italic" letter-spacing="1.8">Taxa</tspan> <tspan font-weight="bold">=</tspan> 0.0437</text>
<text x="93.60" y="603.44" font-size="11.5" text-anchor="middle" fill="#000" letter-spacing="0.6" stroke="#000" stroke-width="0.2"><tspan font-style="italic" letter-spacing="1.8">Interaction</tspan> <tspan font-weight="bold">=</tspan> 0.0393</text>
<text x="274.20" y="670.65" font-size="11.8" text-anchor="start" fill="#000">Abx</text>
<line x1="281.60" y1="679.00" x2="281.60" y2="699.00" stroke="#00BFC4" stroke-width="1" />
<rect x="272.40" y="683.10" width="18.20" height="11.80" fill="#fff" stroke="#00BFC4" stroke-width="1" />
<line x1="272.40" y1="689.00" x2="290.60" y2="689.00" stroke="#00BFC4" stroke-width="1" />
<circle cx="281.60" cy="689.00" r="2.6" fill="#00BFC4"/>
<text x="293.80" y="691.92" font-size="8.1" text-anchor="start" fill="#1a1a1a">No_Abx</text>
<line x1="281.60" y1="703.20" x2="281.60" y2="723.20" stroke="#F8766D" stroke-width="1" />
<rect x="272.40" y="707.30" width="18.20" height="11.80" fill="#fff" stroke="#F8766D" stroke-width="1" />
<line x1="272.40" y1="713.20" x2="290.60" y2="713.20" stroke="#F8766D" stroke-width="1" />
<circle cx="281.60" cy="713.20" r="2.6" fill="#F8766D"/>
<text x="293.80" y="716.12" font-size="8.1" text-anchor="start" fill="#1a1a1a">Abx</text>
<text x="311.70" y="589.60" font-size="21" letter-spacing="0.6" fill="#000">F)</text>
<rect x="369.60" y="578.00" width="243.30" height="245.60" fill="#EBEBEB" stroke="none" stroke-width="1" />
<line x1="369.60" y1="616.15" x2="612.90" y2="616.15" stroke="#fff" stroke-width="0.55" />
<line x1="369.60" y1="683.65" x2="612.90" y2="683.65" stroke="#fff" stroke-width="0.55" />
<line x1="369.60" y1="751.15" x2="612.90" y2="751.15" stroke="#fff" stroke-width="0.55" />
<line x1="369.60" y1="818.65" x2="612.90" y2="818.65" stroke="#fff" stroke-width="0.55" />
<line x1="369.60" y1="582.40" x2="612.90" y2="582.40" stroke="#fff" stroke-width="0.95" />
<line x1="366.30" y1="582.40" x2="369.60" y2="582.40" stroke="#333" stroke-width="1" />
<text x="366.20" y="586.65" font-size="11.8" text-anchor="end" fill="#4d4d4d">1000</text>
<line x1="369.60" y1="649.90" x2="612.90" y2="649.90" stroke="#fff" stroke-width="0.95" />
<line x1="366.30" y1="649.90" x2="369.60" y2="649.90" stroke="#333" stroke-width="1" />
<text x="366.20" y="654.15" font-size="11.8" text-anchor="end" fill="#4d4d4d">100</text>
<line x1="369.60" y1="717.40" x2="612.90" y2="717.40" stroke="#fff" stroke-width="0.95" />
<line x1="366.30" y1="717.40" x2="369.60" y2="717.40" stroke="#333" stroke-width="1" />
<text x="366.20" y="721.65" font-size="11.8" text-anchor="end" fill="#4d4d4d">10</text>
<line x1="369.60" y1="784.90" x2="612.90" y2="784.90" stroke="#fff" stroke-width="0.95" />
<line x1="366.30" y1="784.90" x2="369.60" y2="784.90" stroke="#333" stroke-width="1" />
<text x="366.20" y="789.15" font-size="11.8" text-anchor="end" fill="#4d4d4d">1</text>
<line x1="435.50" y1="578.00" x2="435.50" y2="823.60" stroke="#fff" stroke-width="1.1" />
<line x1="435.50" y1="823.60" x2="435.50" y2="826.30" stroke="#333" stroke-width="1" />
<line x1="546.30" y1="578.00" x2="546.30" y2="823.60" stroke="#fff" stroke-width="1.1" />
<line x1="546.30" y1="823.60" x2="546.30" y2="826.30" stroke="#333" stroke-width="1" />
<text x="435.80" y="836.39" font-size="12.2" text-anchor="middle" fill="#4d4d4d">LT_abx</text>
<text x="546.60" y="836.59" font-size="12.2" text-anchor="middle" fill="#4d4d4d">LT_noabx</text>
<text x="491.10" y="850.76" font-size="14.9" text-anchor="middle" fill="#000">Group</text>
<text x="0" y="0" font-size="15.1" text-anchor="middle" fill="#000"  transform="translate(334.84 700.50) rotate(-90)">Cytokine concentration (pg/ml)</text>
<rect x="394.30" y="588.20" width="26.70" height="3.40" fill="#F8766D" stroke="none" stroke-width="1" />
<circle cx="406.30" cy="587.90" r="2.6" fill="#F8766D"/>
<circle cx="409.30" cy="591.40" r="2.6" fill="#F8766D"/>
<line x1="435.50" y1="655.80" x2="435.50" y2="670.60" stroke="#2DB42D" stroke-width="2" />
<line x1="435.50" y1="701.00" x2="435.50" y2="716.20" stroke="#2DB42D" stroke-width="2" />
<rect x="423.00" y="670.60" width="25.00" height="30.40" fill="#fff" stroke="#2DB42D" stroke-width="2" />
<line x1="423.00" y1="685.40" x2="448.00" y2="685.40" stroke="#2DB42D" stroke-width="3" />
<circle cx="434.70" cy="655.80" r="2.6" fill="#2DB42D"/>
<circle cx="433.90" cy="716.20" r="2.6" fill="#2DB42D"/>
<rect x="450.30" y="671.20" width="26.40" height="5.40" fill="#7094D6" stroke="none" stroke-width="1" />
<circle cx="459.00" cy="671.60" r="2.3" fill="#7094D6"/>
<circle cx="465.20" cy="678.40" r="2.5" fill="#7094D6"/>
<line x1="518.55" y1="599.40" x2="518.55" y2="609.00" stroke="#F8766D" stroke-width="2" />
<line x1="518.55" y1="629.20" x2="518.55" y2="638.00" stroke="#F8766D" stroke-width="2" />
<rect x="505.40" y="609.00" width="26.30" height="20.20" fill="#fff" stroke="#F8766D" stroke-width="2" />
<line x1="505.40" y1="619.30" x2="531.70" y2="619.30" stroke="#F8766D" stroke-width="3" />
<circle cx="516.50" cy="599.40" r="2.6" fill="#F8766D"/>
<circle cx="519.50" cy="638.00" r="2.6" fill="#F8766D"/>
<circle cx="518.60" cy="619.30" r="2.0" fill="#F8766D"/>
<line x1="546.35" y1="668.90" x2="546.35" y2="689.00" stroke="#2DB42D" stroke-width="2" />
<line x1="546.35" y1="726.50" x2="546.35" y2="742.60" stroke="#2DB42D" stroke-width="2" />
<rect x="533.80" y="689.00" width="25.10" height="37.50" fill="#fff" stroke="#2DB42D" stroke-width="2" />
<line x1="533.80" y1="709.90" x2="558.90" y2="709.90" stroke="#2DB42D" stroke-width="3" />
<circle cx="542.80" cy="668.90" r="2.6" fill="#2DB42D"/>
<circle cx="549.80" cy="742.60" r="2.6" fill="#2DB42D"/>
<circle cx="548.50" cy="709.90" r="2.0" fill="#2DB42D"/>
<line x1="574.00" y1="691.40" x2="574.00" y2="716.90" stroke="#7094D6" stroke-width="2" />
<line x1="574.00" y1="777.60" x2="574.00" y2="812.60" stroke="#7094D6" stroke-width="2" />
<rect x="561.50" y="716.90" width="25.70" height="60.70" fill="#fff" stroke="#7094D6" stroke-width="2" />
<line x1="561.50" y1="742.60" x2="587.20" y2="742.60" stroke="#7094D6" stroke-width="3" />
<circle cx="577.80" cy="691.40" r="2.6" fill="#7094D6"/>
<circle cx="569.10" cy="812.60" r="2.6" fill="#7094D6"/>
<circle cx="575.00" cy="742.60" r="2.0" fill="#7094D6"/>
<line x1="406.50" y1="580.20" x2="520.00" y2="581.50" stroke="#000" stroke-width="1.4" />
<text x="465.10" y="582.30" font-size="15" text-anchor="middle" fill="#000">*</text>
<line x1="459.30" y1="664.70" x2="577.00" y2="664.70" stroke="#000" stroke-width="1.4" />
<text x="512.60" y="664.60" font-size="15" text-anchor="middle" fill="#000">*</text>
<text x="435.50" y="726.83" font-size="11.2" text-anchor="middle" fill="#000" letter-spacing="0.45" stroke="#000" stroke-width="0.2"><tspan font-style="italic" letter-spacing="1.35">pvalues</tspan></text>
<text x="435.50" y="736.63" font-size="11.2" text-anchor="middle" fill="#000" letter-spacing="0.45" stroke="#000" stroke-width="0.2"><tspan font-style="italic" letter-spacing="1.35">Antibiotic</tspan> <tspan font-weight="bold">=</tspan> 0.00158</text>
<text x="435.50" y="746.93" font-size="11.2" text-anchor="middle" fill="#000" letter-spacing="0.45" stroke="#000" stroke-width="0.2"><tspan font-style="italic" letter-spacing="1.35">Cytokine</tspan> <tspan font-weight="bold">=</tspan> 1.99e-07</text>
<text x="435.50" y="757.23" font-size="11.2" text-anchor="middle" fill="#000" letter-spacing="0.45" stroke="#000" stroke-width="0.2"><tspan font-style="italic" letter-spacing="1.35">Interaction</tspan> <tspan font-weight="bold">=</tspan> 0.00143</text>
<text x="622.80" y="685.70" font-size="15.0" text-anchor="start" fill="#000">Cytokine</text>
<rect x="622.80" y="695.90" width="10.20" height="8.60" fill="#F8766D" stroke="none" stroke-width="1" />
<text x="641.20" y="704.56" font-size="12.1" text-anchor="start" fill="#000">IL-18</text>
<rect x="622.80" y="707.00" width="10.20" height="8.60" fill="#2DB42D" stroke="none" stroke-width="1" />
<text x="641.20" y="715.66" font-size="12.1" text-anchor="start" fill="#000">IL-1B</text>
<rect x="622.80" y="718.40" width="10.20" height="8.60" fill="#7094D6" stroke="none" stroke-width="1" />
<text x="641.20" y="727.06" font-size="12.1" text-anchor="start" fill="#000">IL-6</text>
</svg></body></html>
